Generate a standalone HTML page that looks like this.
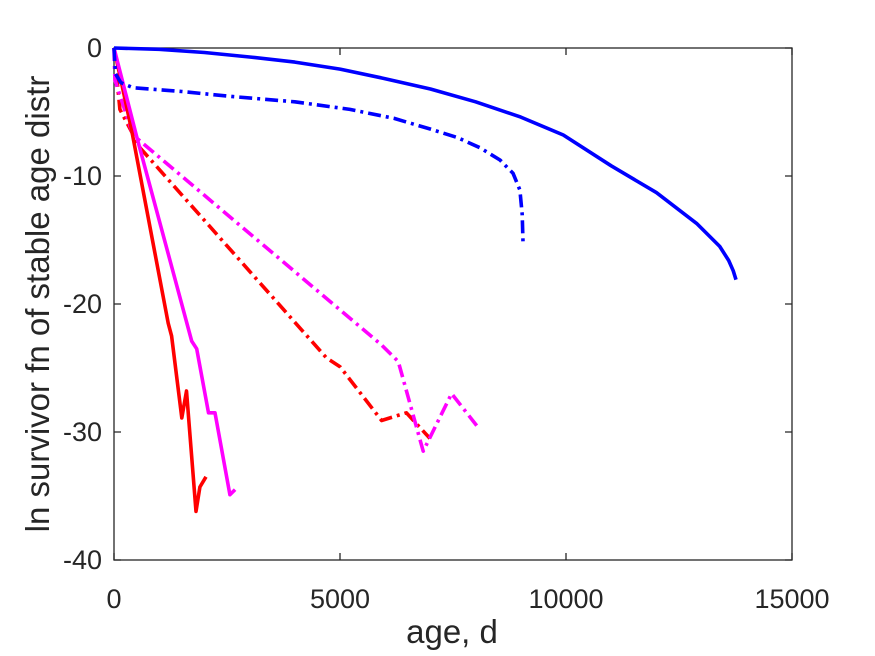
<!DOCTYPE html>
<html><head><meta charset="utf-8"><style>
body{margin:0;background:#fff}
svg{display:block;font-family:"Liberation Sans",Arial,sans-serif}
</style></head><body>
<svg id="chart" width="875" height="656" viewBox="0 0 875 656" xmlns="http://www.w3.org/2000/svg">
<rect x="0" y="0" width="875" height="656" fill="#fff"/>
<g id="axes"></g>
<g id="series"></g>
<text x="452" y="643" font-size="33" text-anchor="middle" fill="#262626">age, d</text>
<text transform="translate(49,304) rotate(-90)" font-size="33" text-anchor="middle" fill="#262626">ln survivor fn of stable age distr</text>
</svg>
<script>
const xTicks=[0,5000,10000,15000];
const yTicks=[0,-10,-20,-30,-40];
const blueSolidX=[0,1000,2000,3000,4000,5000,6000,7000,8000,9000,9940,11000,12000,12890,13400,13600,13700,13760];
const blueSolidY=[0,-0.1,-0.35,-0.7,-1.1,-1.65,-2.4,-3.2,-4.2,-5.4,-6.8,-9.2,-11.3,-13.7,-15.5,-16.6,-17.4,-18.1];
const blueDashX=[0,30,150,420,1500,2630,4000,5220,6200,7060,7600,8100,8540,8830,8980,9030,9050];
const blueDashY=[0,-2.0,-2.7,-3.1,-3.4,-3.8,-4.2,-4.8,-5.5,-6.4,-7.0,-7.8,-8.75,-9.8,-11.1,-13,-15.4];
const redSolidX=[0,390,1200,1275,1500,1605,1815,1900,2035];
const redSolidY=[0,-6.4,-21.5,-22.5,-28.9,-26.8,-36.2,-34.3,-33.5];
const magSolidX=[0,500,1720,1830,2090,2235,2565,2680];
const magSolidY=[0,-6.9,-22.9,-23.5,-28.5,-28.5,-34.9,-34.5];
const redDashX=[0,130,575,4700,5000,5920,6470,6990];
const redDashY=[0,-4.8,-7.8,-24.2,-24.9,-29.1,-28.5,-30.5];
const magDashX=[0,20,420,5920,6290,6840,7470,8025];
const magDashY=[0,-2.5,-6.8,-23.2,-24.5,-31.5,-27.0,-29.5];

const X0=114,X1=792,Y0=48,Y1=560;
const xs=v=>X0+(v-0)/15000*(X1-X0);
const ys=v=>Y0+(0-v)/40*(Y1-Y0);
const NS="http://www.w3.org/2000/svg";
const axes=document.getElementById('axes');
function mk(tag,attrs,parent){const e=document.createElementNS(NS,tag);for(const k in attrs)e.setAttribute(k,attrs[k]);parent.appendChild(e);return e;}
const frame=mk('rect',{x:X0,y:Y0,width:X1-X0,height:Y1-Y0,fill:'none',stroke:'#262626','stroke-width':1.3},axes);


xTicks.forEach(t=>{
  const x=xs(t);
  const l=mk('path',{d:`M${x},${Y1}v-7M${x},${Y0}v7`,stroke:'#262626','stroke-width':1.3},axes);
  
  
  const tx=mk('text',{x:x,y:Y1+48,'font-size':27,'text-anchor':'middle',fill:'#262626'},axes);
  tx.textContent=t;
  
  
});
yTicks.forEach(t=>{
  const y=ys(t);
  const l=mk('path',{d:`M${X0},${y}h7M${X1},${y}h-7`,stroke:'#262626','stroke-width':1.3},axes);
  
  
  const tx=mk('text',{x:102,y:y+9,'font-size':27,'text-anchor':'end',fill:'#262626'},axes);
  tx.textContent=t;
  
  
});
const ser=document.getElementById('series');
function line(xa,ya,color,dash,name){
  const d=xa.map((v,i)=>(i?'L':'M')+xs(v).toFixed(1)+','+ys(ya[i]).toFixed(1)).join('');
  const p=mk('path',{d:d,fill:'none',stroke:color,'stroke-width':3.6,'stroke-linejoin':'round'},ser);
  if(dash)p.setAttribute('stroke-dasharray','13,5,3,5');
  
  
}
line(redDashX,redDashY,'#ff0000',true,'red-dashdot-line');
line(magDashX,magDashY,'#ff00ff',true,'magenta-dashdot-line');
line(redSolidX,redSolidY,'#ff0000',false,'red-solid-line');
line(magSolidX,magSolidY,'#ff00ff',false,'magenta-solid-line');
line(blueDashX,blueDashY,'#0000ff',true,'blue-dashdot-line');
line(blueSolidX,blueSolidY,'#0000ff',false,'blue-solid-line');
</script>
</body></html>
